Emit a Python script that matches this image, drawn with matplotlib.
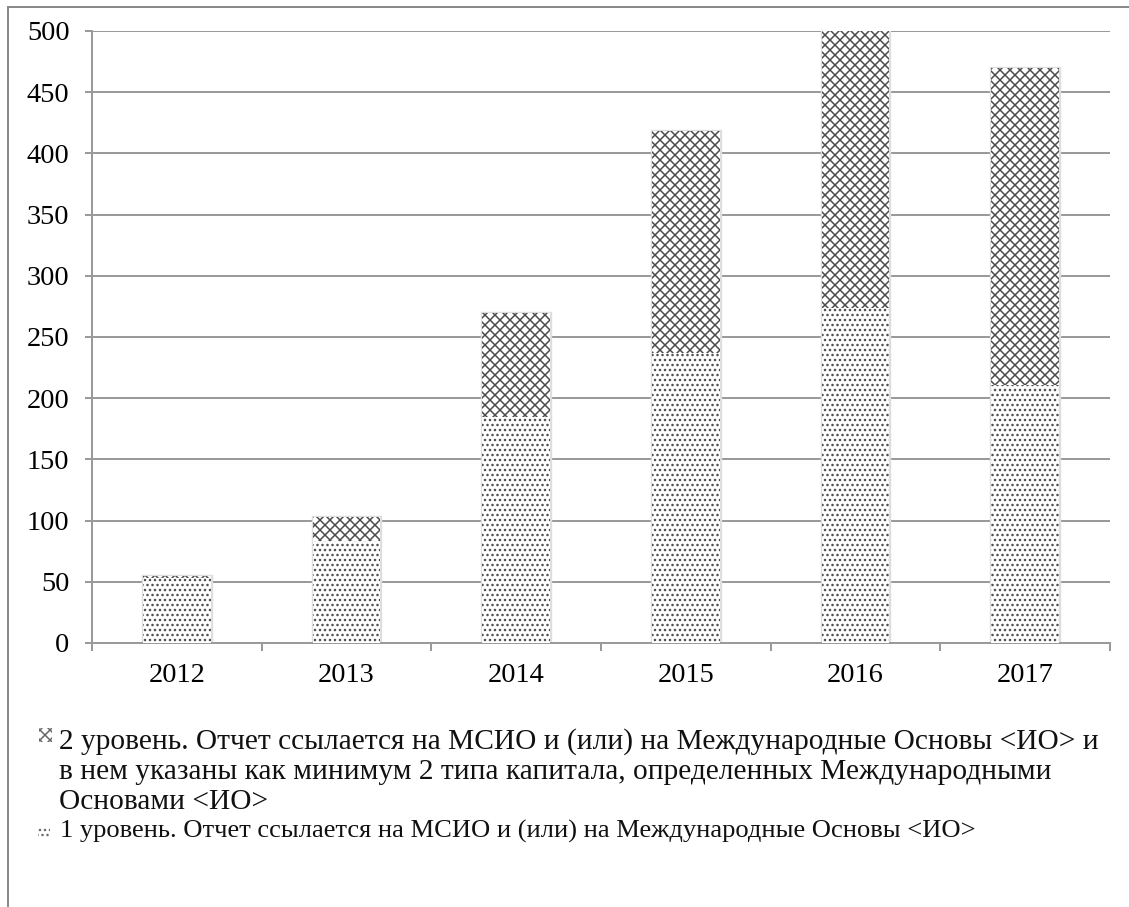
import matplotlib.pyplot as plt
from matplotlib.patches import Rectangle
from matplotlib.lines import Line2D

plt.rcParams['font.family'] = ['Liberation Serif', 'DejaVu Serif']
plt.rcParams['hatch.linewidth'] = 0.9

years = ['2012', '2013', '2014', '2015', '2016', '2017']
level1 = [53, 83, 185, 237, 274, 211]
level2 = [2, 20, 85, 181, 226, 259]

label2 = ('2 уровень. Отчет ссылается на МСИО и (или) на Международные Основы <ИО> и\n'
          'в нем указаны как минимум 2 типа капитала, определенных Международными\n'
          'Основами <ИО>')
label1 = '1 уровень. Отчет ссылается на МСИО и (или) на Международные Основы <ИО>'

grid_c = '#9a9a9a'
hatch_c = '#4a4a4a'

fig = plt.figure(figsize=(1129 / 120, 907 / 120), dpi=120)
ax = fig.add_axes([92 / 1129, 1 - 643 / 907, (1110 - 92) / 1129, (643 - 31) / 907])

x = list(range(len(years)))
w = 0.4
# soft grey outline under the hatched fill
ax.bar(x, level1, w, color='white', edgecolor='#dedede', linewidth=2.0, zorder=2)
ax.bar(x, level2, w, bottom=level1, color='white', edgecolor='#dedede', linewidth=2.0, zorder=2)
ax.bar(x, level1, w, color='white', edgecolor=hatch_c, linewidth=0, hatch='....', zorder=3)
ax.bar(x, level2, w, bottom=level1, color='white', edgecolor=hatch_c, linewidth=0, hatch='xxxx', zorder=3)

ax.set_xlim(-0.5, len(years) - 0.5)
ax.set_ylim(0, 500)
ax.set_yticks(range(0, 501, 50))
ax.set_xticks(x)
ax.set_xticklabels(years)
ax.set_xticks([i - 0.5 for i in range(len(years) + 1)], minor=True)
ax.grid(axis='y', color=grid_c, linewidth=1.2, zorder=0)
ax.set_axisbelow(True)

for s in ['top', 'right']:
    ax.spines[s].set_visible(False)
for s in ['left', 'bottom']:
    ax.spines[s].set_color(grid_c)
    ax.spines[s].set_linewidth(1.2)

ax.tick_params(axis='y', length=4.5, width=1.2, color=grid_c, pad=9, labelsize=17)
ax.tick_params(axis='x', which='major', length=0, pad=12, labelsize=17)
ax.tick_params(axis='x', which='minor', length=5, width=1.2, color=grid_c)

# legend drawn under the plot
fig.add_artist(Rectangle((39 / 1129, 1 - 742 / 907), 13 / 1129, 14 / 907, transform=fig.transFigure,
                         facecolor='white', edgecolor='#666666', linewidth=0, hatch='xxxx'))
fig.text(59 / 1129, 1 - 728 / 907, label2, fontsize=17.6, va='top', ha='left',
         linespacing=1.2, color='#111111')
fig.add_artist(Rectangle((38 / 1129, 1 - 838 / 907), 12 / 1129, 10 / 907, transform=fig.transFigure,
                         facecolor='white', edgecolor='#666666', linewidth=0, hatch='....'))
fig.text(60 / 1129, 1 - 831 / 907, label1, fontsize=15.9, va='center', ha='left', color='#111111')

# frame lines at the top and left edge
fig.add_artist(Line2D([8 / 1129, 8 / 1129], [0, 1 - 7 / 907], transform=fig.transFigure,
                      color='#8a8a8a', linewidth=1.2))
fig.add_artist(Line2D([8 / 1129, 1], [1 - 7 / 907, 1 - 7 / 907], transform=fig.transFigure,
                      color='#8a8a8a', linewidth=1.2))

fig.savefig('out.png', dpi=120)
